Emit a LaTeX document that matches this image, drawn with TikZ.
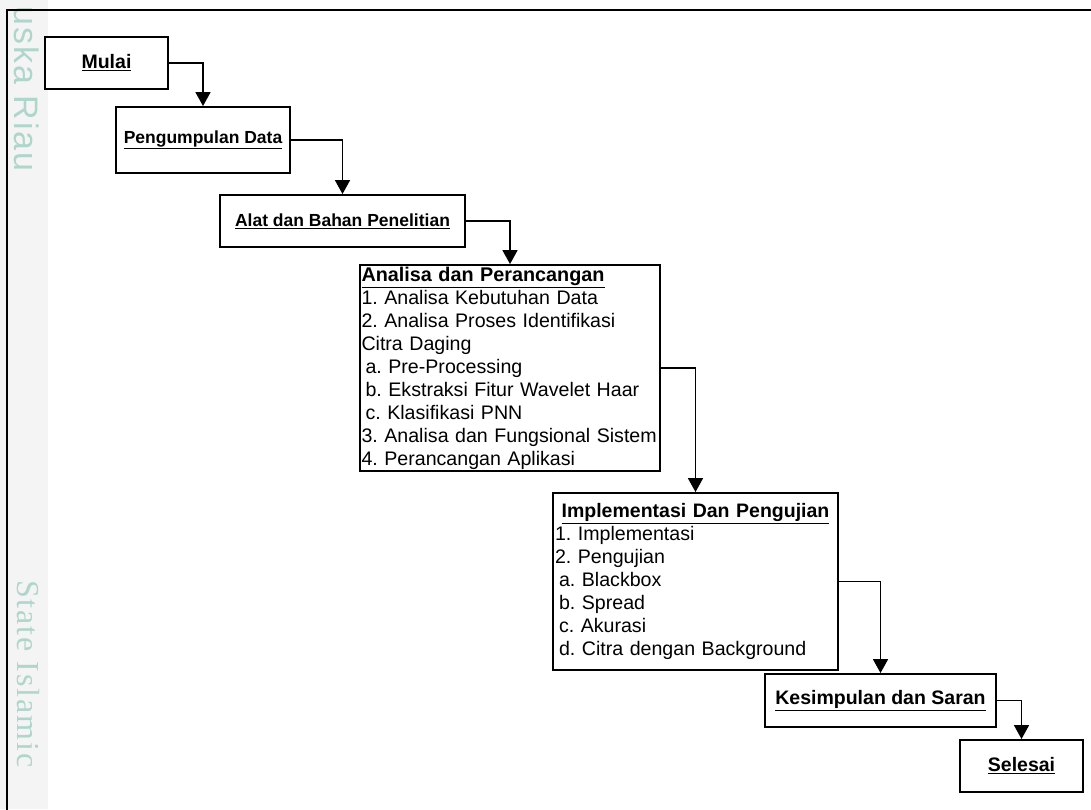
\documentclass[tikz,border=0pt]{standalone}
\usepackage{fontspec}
\setmainfont{Liberation Sans}
\newfontfamily\wmsans[LetterSpace=6]{Liberation Sans}
\newfontfamily\wmserif[LetterSpace=6]{Liberation Serif}
\usetikzlibrary{arrows.meta}
\definecolor{wmteal}{HTML}{AFD6CB}
\definecolor{wmstrip}{HTML}{F4F4F4}
\frenchspacing
\tikzset{
  box/.style={draw, line width=1.9pt, inner sep=0pt, fill=white},
  flow/.style={line width=1.7pt, -{Triangle[width=15pt,length=14pt]}},
  ttl/.style={font=\fontsize{19.5}{22}\selectfont\bfseries},
  listbox/.style={box, align=left, font=\fontsize{19.6}{23}\selectfont,
    execute at begin node={\hyphenpenalty=10000\exhyphenpenalty=10000}},
  wm/.style={text=wmteal, rotate=-90, anchor=west, inner sep=0pt},
}
\begin{document}
\begin{tikzpicture}[x=1pt, y=-1pt]
\useasboundingbox (0,0) rectangle (1091,809);
% watermark strip and text
\fill[wmstrip] (0,0) rectangle (48,809);
\node[wm, font=\wmsans\fontsize{34}{34}\selectfont] (wmtop) at (27,6) {uska Riau};
\node[wm, font=\wmserif\fontsize{32}{32}\selectfont] (wmbot) at (28,580) {State Islamic};
% outer frame
\draw[line width=1.8pt] (7,812) -- (7,10) -- (1095,10);
% boxes
\node[box, ttl, minimum width=123pt, minimum height=52pt] (mulai) at (106.5,63) {\underline{Mulai}};
\node[box, font=\fontsize{17.5}{20}\selectfont\bfseries, minimum width=174pt, minimum height=66pt] (kumpul) at (203,140) {\underline{Pengumpulan Data}};
\node[box, font=\fontsize{17.5}{20}\selectfont\bfseries, minimum width=245pt, minimum height=52pt] (alat) at (342.5,221) {\underline{Alat dan Bahan Penelitian}};
\node[listbox, minimum width=300pt, minimum height=206pt, text width=297pt, inner xsep=1.5pt] (analisa) at (510,368) {%
\mbox{\fontsize{19.8}{23}\selectfont\bfseries\underline{Analisa dan Perancangan}}\\
\mbox{1. Analisa Kebutuhan Data}\\
\mbox{2. Analisa Proses Identifikasi}\\
\mbox{Citra Daging}\\
\mbox{\hspace*{4pt}a. Pre-Processing}\\
\mbox{\hspace*{4pt}b. Ekstraksi Fitur Wavelet Haar}\\
\mbox{\hspace*{4pt}c. Klasifikasi PNN}\\
\mbox{3. Analisa dan Fungsional Sistem}\\
\mbox{4. Perancangan Aplikasi}};
\node[listbox, minimum width=285pt, minimum height=177pt, text width=281pt, inner xsep=2pt] (impl) at (695.5,581.5) {%
\makebox[281pt][c]{\fontsize{19.5}{23}\selectfont\bfseries\underline{Implementasi Dan Pengujian}}\\
1. Implementasi\\
2. Pengujian\\
\hspace*{4pt}a. Blackbox\\
\hspace*{4pt}b. Spread\\
\hspace*{4pt}c. Akurasi\\
\hspace*{4pt}d. Citra dengan Background};
\node[box, ttl, minimum width=231pt, minimum height=53pt] (simpul) at (880.5,700.5) {\underline{Kesimpulan dan Saran}};
\node[box, ttl, minimum width=123pt, minimum height=52pt] (selesai) at (1021.5,766) {\underline{Selesai}};
% connectors
\draw[flow] (mulai.east) -| (kumpul.north);
\draw[flow] (kumpul.east) -| (alat.north);
\draw[flow] (alat.east) -| (analisa.north);
\draw[flow] (analisa.east) -| (impl.north);
\draw[flow] (impl.east) -| (simpul.north);
\draw[flow] (simpul.east) -| (selesai.north);
\end{tikzpicture}
\end{document}
